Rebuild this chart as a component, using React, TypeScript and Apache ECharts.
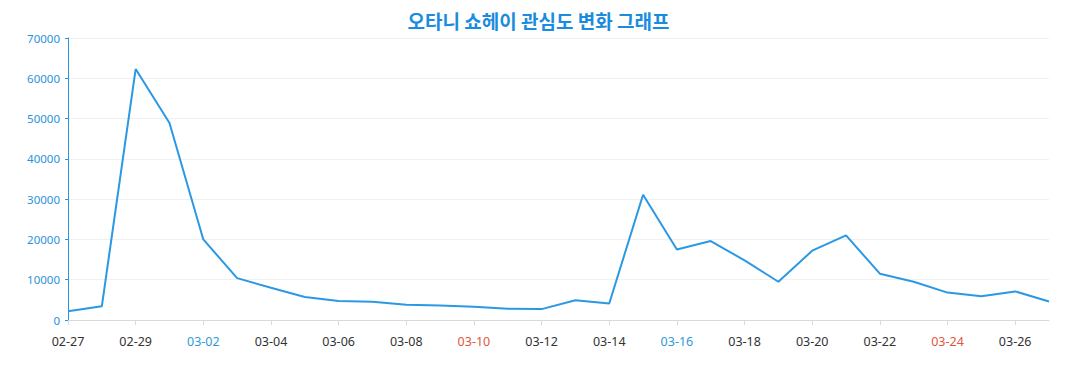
import React, { useEffect, useRef } from "react";
import * as echarts from "echarts";

const TITLE = "오타니 쇼헤이 관심도 변화 그래프";
const dates = [
  "02-27", "02-28", "02-29", "03-01", "03-02", "03-03", "03-04", "03-05", "03-06", "03-07",
  "03-08", "03-09", "03-10", "03-11", "03-12", "03-13", "03-14", "03-15", "03-16", "03-17",
  "03-18", "03-19", "03-20", "03-21", "03-22", "03-23", "03-24", "03-25", "03-26", "03-27",
];
const values = [
  2200, 3400, 62300, 48900, 20000, 10400, 8000, 5700, 4700, 4500,
  3800, 3600, 3300, 2800, 2700, 4900, 4100, 31100, 17500, 19600,
  14800, 9500, 17200, 21000, 11500, 9500, 6800, 5900, 7100, 4600,
];
const saturdays = ["03-02", "03-09", "03-16", "03-23"];
const sundays = ["03-03", "03-10", "03-17", "03-24"];

export default function App() {
  const ref = useRef<HTMLDivElement>(null);
  useEffect(() => {
    if (!ref.current) return;
    const chart = echarts.init(ref.current, undefined, { renderer: "svg" });
    const font = "'Noto Sans', 'Noto Sans CJK KR', sans-serif";
    chart.setOption({
      animation: false,
      textStyle: { fontFamily: font },
      title: {
        text: TITLE,
        left: "center",
        top: 0,
        padding: 0,
        textStyle: {
          fontFamily: "'Noto Sans CJK KR', sans-serif",
          fontSize: 19,
          lineHeight: 24,
          fontWeight: "bold",
          color: "#1a8ce0",
        },
      },
      grid: { left: 60, right: 20, top: 30, bottom: 62 },
      xAxis: {
        type: "category",
        data: dates,
        boundaryGap: false,
        axisLine: { lineStyle: { color: "#d9d9d9" } },
        axisTick: { lineStyle: { color: "#d9d9d9" }, length: 5 },
        axisLabel: {
          interval: 1,
          margin: 15,
          fontSize: 12.5,
          fontFamily: font,
          color: (v: string) =>
            saturdays.includes(v) ? "#2f9ad6" : sundays.includes(v) ? "#e0573b" : "#333333",
        },
      },
      yAxis: {
        type: "value",
        min: 0,
        max: 70000,
        interval: 10000,
        axisLine: { show: true, lineStyle: { color: "#2a93dc" } },
        axisTick: { show: true, length: 3, lineStyle: { color: "#2a93dc" } },
        axisLabel: {
          color: "#2a93dc",
          fontSize: 11.5,
          fontFamily: font,
          margin: 8,
          formatter: (v: number) => String(v),
        },
        splitLine: { lineStyle: { color: "#f0f0f0" } },
      },
      series: [
        {
          type: "line",
          data: values,
          showSymbol: false,
          lineStyle: { color: "#2b98e4", width: 2 },
          itemStyle: { color: "#2b98e4" },
        },
      ],
    });
    return () => chart.dispose();
  }, []);
  return <div ref={ref} style={{ width: 1061, height: 374 }} />;
}
